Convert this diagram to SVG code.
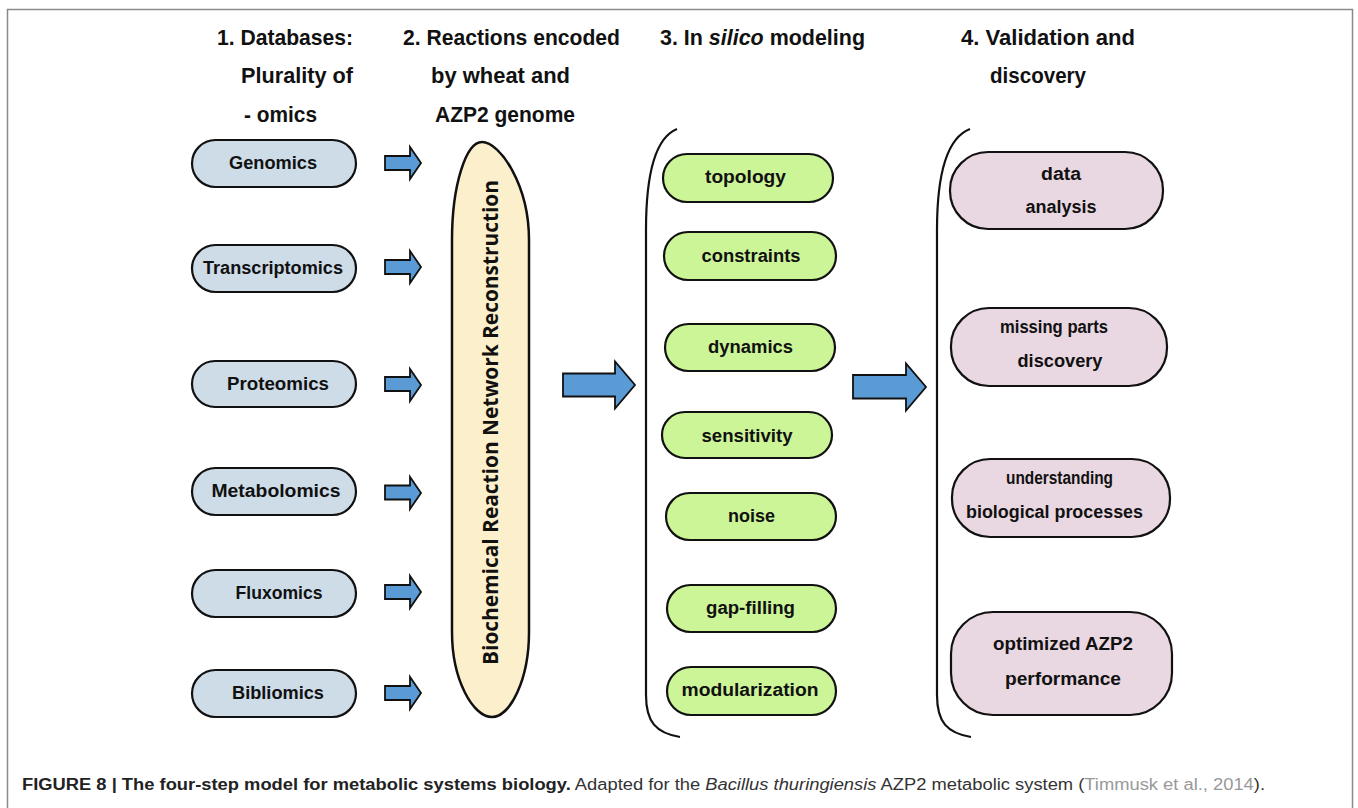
<svg xmlns="http://www.w3.org/2000/svg" width="1358" height="808" viewBox="0 0 1358 808">
<style>
.hdr{font-family:"Liberation Sans",Arial,sans-serif;font-weight:bold;font-size:22px;fill:#111}
.lbl{font-family:"Liberation Sans",Arial,sans-serif;font-weight:bold;font-size:18px;fill:#111;text-anchor:middle}
.blue{fill:#cedce8;stroke:#111;stroke-width:2.2}
.green{fill:#ccf598;stroke:#111;stroke-width:2.2}
.pink{fill:#e9d7e1;stroke:#111;stroke-width:2.2}
.arrow{fill:#5b9bd5;stroke:#111;stroke-width:1.8;stroke-linejoin:miter}
.brace{fill:none;stroke:#111;stroke-width:2.2}
.cap{font-family:"Liberation Sans",Arial,sans-serif;font-size:16px;fill:#333}
</style>
<rect width="1358" height="808" fill="#fff"/>
<path d="M7.5,812 V9.5 H1352.5 V812" fill="none" stroke="#8a8a8a" stroke-width="1.5"/>

<g id="headers">
<text class="hdr" x="217" y="45" textLength="136" lengthAdjust="spacingAndGlyphs">1. Databases:</text>
<text class="hdr" x="241" y="83" textLength="112" lengthAdjust="spacingAndGlyphs">Plurality of</text>
<text class="hdr" x="244" y="122" textLength="73" lengthAdjust="spacingAndGlyphs">- omics</text>
<text class="hdr" x="403" y="45" textLength="217" lengthAdjust="spacingAndGlyphs">2. Reactions encoded</text>
<text class="hdr" x="431" y="83" textLength="139" lengthAdjust="spacingAndGlyphs">by wheat and</text>
<text class="hdr" x="435" y="122" textLength="140" lengthAdjust="spacingAndGlyphs">AZP2 genome</text>
<text class="hdr" x="660" y="45" textLength="205" lengthAdjust="spacingAndGlyphs">3. In <tspan font-style="italic">silico</tspan> modeling</text>
<text class="hdr" x="961" y="45" textLength="174" lengthAdjust="spacingAndGlyphs">4. Validation and</text>
<text class="hdr" x="990" y="83" textLength="96" lengthAdjust="spacingAndGlyphs">discovery</text>
</g>

<g id="genomics"><rect class="blue" x="192" y="140" width="164" height="47" rx="23.5"/><text class="lbl" x="273" y="168.5" textLength="88" lengthAdjust="spacingAndGlyphs">Genomics</text></g>
<g id="transcriptomics"><rect class="blue" x="192" y="245" width="164" height="47" rx="23.5"/><text class="lbl" x="273" y="273.5" textLength="140" lengthAdjust="spacingAndGlyphs">Transcriptomics</text></g>
<g id="proteomics"><rect class="blue" x="192" y="361" width="164" height="46" rx="23"/><text class="lbl" x="278" y="390" textLength="102" lengthAdjust="spacingAndGlyphs">Proteomics</text></g>
<g id="metabolomics"><rect class="blue" x="192" y="468" width="164" height="47" rx="23.5"/><text class="lbl" x="276" y="497" textLength="129" lengthAdjust="spacingAndGlyphs">Metabolomics</text></g>
<g id="fluxomics"><rect class="blue" x="192" y="570" width="164" height="47" rx="23.5"/><text class="lbl" x="279" y="599" textLength="87" lengthAdjust="spacingAndGlyphs">Fluxomics</text></g>
<g id="bibliomics"><rect class="blue" x="192" y="670" width="164" height="47" rx="23.5"/><text class="lbl" x="278" y="699" textLength="92" lengthAdjust="spacingAndGlyphs">Bibliomics</text></g>

<g id="reconstruction">
<path d="M452,240 C452,185 466,142 482,142 C500,142 529,185 529,240 L529,632 C529,680 510,717 492,717 C473,717 452,680 452,632 Z" fill="#fcefcc" stroke="#111" stroke-width="2.5"/>
<text transform="translate(498,422.5) rotate(-90)" text-anchor="middle" font-family="'Open Sans','DejaVu Sans',sans-serif" font-weight="bold" font-size="21" fill="#111" textLength="485" lengthAdjust="spacingAndGlyphs">Biochemical Reaction Network Reconstruction</text>
</g>

<g id="modeling-bracket"><path class="brace" d="M677,129 C657,137 646,170 646,230 L646,695 C646,722 656,733 680,737"/></g>
<g id="topology"><rect class="green" x="663" y="154" width="170" height="48" rx="24"/><text class="lbl" x="745.5" y="183" textLength="81" lengthAdjust="spacingAndGlyphs">topology</text></g>
<g id="constraints"><rect class="green" x="664" y="232" width="172" height="48" rx="24"/><text class="lbl" x="751" y="262" textLength="99" lengthAdjust="spacingAndGlyphs">constraints</text></g>
<g id="dynamics"><rect class="green" x="665" y="324" width="170" height="47" rx="23.5"/><text class="lbl" x="750.5" y="353" textLength="85" lengthAdjust="spacingAndGlyphs">dynamics</text></g>
<g id="sensitivity"><rect class="green" x="662" y="412" width="170" height="46" rx="23"/><text class="lbl" x="747" y="441.5" textLength="91" lengthAdjust="spacingAndGlyphs">sensitivity</text></g>
<g id="noise"><rect class="green" x="666" y="493" width="170" height="47" rx="23.5"/><text class="lbl" x="751.5" y="521.5" textLength="47" lengthAdjust="spacingAndGlyphs">noise</text></g>
<g id="gap-filling"><rect class="green" x="667" y="585" width="169" height="47" rx="23.5"/><text class="lbl" x="750.5" y="614" textLength="89" lengthAdjust="spacingAndGlyphs">gap-filling</text></g>
<g id="modularization"><rect class="green" x="667" y="667" width="169" height="48" rx="24"/><text class="lbl" x="750" y="695.5" textLength="137" lengthAdjust="spacingAndGlyphs">modularization</text></g>

<g id="validation-bracket"><path class="brace" d="M970,129 C949,137 937,170 937,230 L937,695 C937,722 947,733 971,737"/></g>
<g id="data-analysis"><rect class="pink" x="950" y="152" width="213" height="77" rx="38" ry="38"/><text class="lbl" x="1061" y="180" textLength="40" lengthAdjust="spacingAndGlyphs">data</text><text class="lbl" x="1061" y="213" textLength="71" lengthAdjust="spacingAndGlyphs">analysis</text></g>
<g id="missing-parts"><rect class="pink" x="951" y="308" width="216" height="78" rx="38" ry="38"/><text class="lbl" x="1054" y="333" textLength="108" lengthAdjust="spacingAndGlyphs">missing parts</text><text class="lbl" x="1060" y="367" textLength="85" lengthAdjust="spacingAndGlyphs">discovery</text></g>
<g id="understanding"><rect class="pink" x="952" y="459" width="218" height="78" rx="38" ry="38"/><text class="lbl" x="1059.5" y="484" textLength="107" lengthAdjust="spacingAndGlyphs">understanding</text><text class="lbl" x="1054.5" y="518" textLength="177" lengthAdjust="spacingAndGlyphs">biological processes</text></g>
<g id="optimized"><rect class="pink" x="951" y="612" width="221" height="103" rx="42" ry="42"/><text class="lbl" x="1063" y="650" textLength="140" lengthAdjust="spacingAndGlyphs">optimized AZP2</text><text class="lbl" x="1063" y="685" textLength="116" lengthAdjust="spacingAndGlyphs">performance</text></g>

<g id="connectors">
<path class="arrow" d="M385,156 H410 V147 L421,163 L410,179 V170 H385 Z"/>
<path class="arrow" d="M385,260 H410 V251 L421,267 L410,283 V274 H385 Z"/>
<path class="arrow" d="M385,377 H410 V369 L421,385 L410,401 V391 H385 Z"/>
<path class="arrow" d="M385,485.5 H410 V477 L421,493 L410,509 V499.5 H385 Z"/>
<path class="arrow" d="M385,585 H410 V576 L421,592 L410,608 V599 H385 Z"/>
<path class="arrow" d="M385,686 H410 V677 L421,693 L410,709 V700 H385 Z"/>
<path class="arrow" d="M563,373.5 H615 V361.5 L635,385 L615,408.5 V396.5 H563 Z"/>
<path class="arrow" d="M853,375 H906 V363.5 L926,387 L906,410.5 V398.5 H853 Z"/>
</g>

<g id="caption">
<text class="cap" x="22" y="790" textLength="1243" lengthAdjust="spacingAndGlyphs"><tspan font-weight="bold" fill="#222">FIGURE 8 | The four-step model for metabolic systems biology.</tspan> Adapted for the <tspan font-style="italic">Bacillus thuringiensis</tspan> AZP2 metabolic system (<tspan fill="#999">Timmusk et al., 2014</tspan>).</text>
</g>
</svg>
